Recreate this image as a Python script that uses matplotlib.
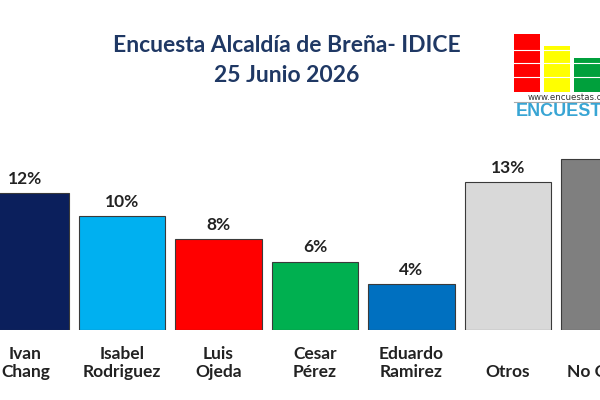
import matplotlib.pyplot as plt
from matplotlib.patches import Rectangle
import matplotlib.transforms as mtransforms

plt.rcParams['font.family'] = ['Lato', 'DejaVu Sans']

candidates = ["Ivan\nChang", "Isabel\nRodriguez", "Luis\nOjeda", "Cesar\nPérez",
              "Eduardo\nRamirez", "Otros", "No Opina"]
votes = [12, 10, 8, 6, 4, 13, 15]
bar_colors = ["#0b1f5c", "#00b0f0", "#ff0000", "#00b050", "#0070c0", "#d9d9d9", "#7f7f7f"]

title_line1 = "Encuesta Alcaldía de Breña- IDICE"
title_line2 = "25 Junio 2026"

fig = plt.figure(figsize=(6, 4), dpi=100)
ax = fig.add_axes([0, 70 / 400, 1, 330 / 400])

x = list(range(len(candidates)))
bars = ax.bar(x, votes, width=0.9, color=bar_colors, edgecolor="#3a3a3a", linewidth=0.8)

for rect, v in zip(bars, votes):
    ax.annotate(f"{v}%", (rect.get_x() + rect.get_width() / 2, rect.get_height()),
                xytext=(0, 4.5), textcoords="offset points", ha="center", va="bottom",
                fontsize=12.5, fontweight="bold", color="#222222")

ax.set_xlim(-0.264, 5.953)
ax.set_ylim(0, 28.95)
ax.axis("off")

# candidate names under bars, bottom aligned
trans = mtransforms.blended_transform_factory(ax.transData, fig.transFigure)
for i, name in enumerate(candidates):
    ax.text(i, 20 / 400, name, transform=trans, ha="center", va="bottom",
            fontsize=12.5, fontweight="bold", color="#222222", linespacing=1.15)

# title
fig.text(0.478, 1 - 45 / 400, title_line1, ha="center", va="center",
         fontsize=16.5, fontweight="bold", color="#1f3864")
fig.text(0.478, 1 - 75 / 400, title_line2, ha="center", va="center",
         fontsize=16.5, fontweight="bold", color="#1f3864")

# encuestas.com logo (top right, cut off)
for (x0, x1, ytop, col) in [(514, 540, 34, "#ff0000"), (544, 570, 46, "#ffff00"),
                            (574, 600, 58, "#00a03c")]:
    fig.patches.append(Rectangle((x0 / 600, 1 - 92 / 400), (x1 - x0) / 600, (92 - ytop) / 400,
                                 transform=fig.transFigure, facecolor=col, edgecolor="none"))
for yl in [50, 63, 77]:
    fig.add_artist(plt.Line2D([514 / 600, 600 / 600], [1 - yl / 400] * 2, transform=fig.transFigure,
                              color="white", linewidth=0.8))
fig.text(528 / 600, 1 - 97 / 400, "www.encuestas.com", ha="left", va="center",
         fontsize=6.2, color="#333333", family="Liberation Sans Narrow")
fig.add_artist(plt.Line2D([514 / 600, 1], [1 - 102 / 400] * 2, transform=fig.transFigure,
                          color="#aaaaaa", linewidth=0.8))
fig.text(516 / 600, 1 - 112 / 400, "ENCUESTAS", ha="left", va="center",
         fontsize=13, fontweight="bold", color="#38a5d4", family="Liberation Sans")

fig.savefig("out.png", dpi=100)
